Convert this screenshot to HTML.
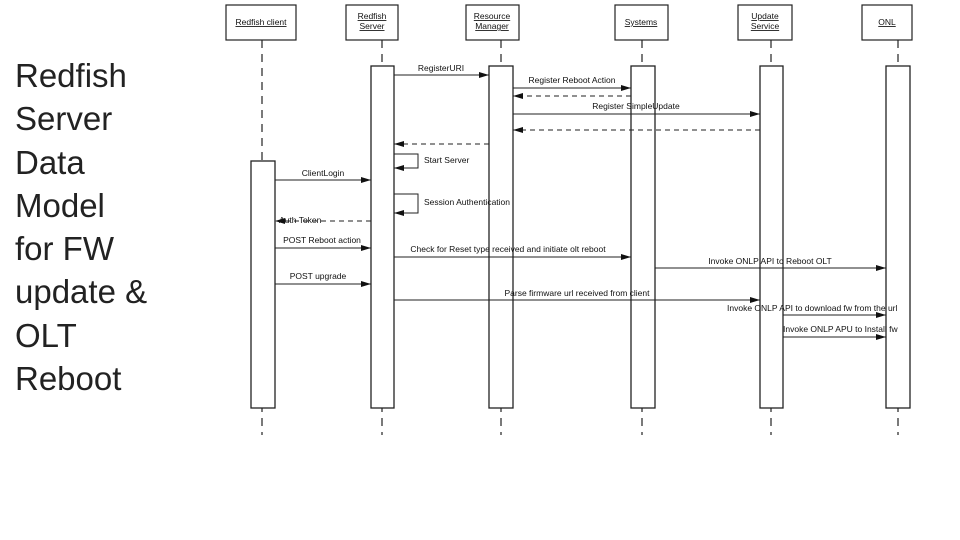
<!DOCTYPE html>
<html><head><meta charset="utf-8"><style>
body{margin:0;width:960px;height:540px;background:#fff;overflow:hidden;position:relative}
.t{position:absolute;left:15px;top:54px;font-family:"Liberation Sans",sans-serif;font-size:33px;line-height:43.3px;color:#222}
svg{position:absolute;left:0;top:0}
</style></head><body>
<div class="t">Redfish<br>Server<br>Data<br>Model<br>for FW<br>update &amp;<br>OLT<br>Reboot</div>
<svg width="960" height="540" font-family="Liberation Sans, sans-serif" font-size="9" fill="#111">
<defs><marker id="a" markerWidth="10" markerHeight="6" refX="10" refY="3" orient="auto" markerUnits="userSpaceOnUse"><path d="M0,0L10,3L0,6z" fill="#111"/></marker></defs>
<g stroke="#222" stroke-width="1.2" fill="#fff">
<rect x="226" y="5" width="70" height="35"/><rect x="346" y="5" width="52" height="35"/><rect x="466" y="5" width="53" height="35"/>
<rect x="615" y="5" width="53" height="35"/><rect x="738" y="5" width="54" height="35"/><rect x="862" y="5" width="50" height="35"/>
</g>
<g stroke="#222" stroke-width="1.2" stroke-dasharray="8,6">
<line x1="262" y1="40" x2="262" y2="435"/><line x1="382" y1="40" x2="382" y2="435"/><line x1="501" y1="40" x2="501" y2="435"/>
<line x1="642" y1="40" x2="642" y2="435"/><line x1="771" y1="40" x2="771" y2="435"/><line x1="898" y1="40" x2="898" y2="435"/>
</g>
<g stroke="#222" stroke-width="1.3" fill="#fff">
<rect x="251" y="161" width="24" height="247"/><rect x="371" y="66" width="23" height="342"/><rect x="489" y="66" width="24" height="342"/>
<rect x="631" y="66" width="24" height="342"/><rect x="760" y="66" width="23" height="342"/><rect x="886" y="66" width="24" height="342"/>
</g>
<g text-anchor="middle" font-size="8.5" text-decoration="underline">
<text x="261" y="25">Redfish client</text><text x="372" y="19">Redfish</text><text x="372" y="29">Server</text>
<text x="492" y="19">Resource</text><text x="492" y="29">Manager</text><text x="641" y="25">Systems</text>
<text x="765" y="19">Update</text><text x="765" y="29">Service</text><text x="887" y="25">ONL</text>
</g>
<g stroke="#222" stroke-width="1" fill="none" marker-end="url(#a)">
<line x1="394" y1="75" x2="489" y2="75"/><line x1="513" y1="88" x2="631" y2="88"/>
<line x1="631" y1="96" x2="513" y2="96" stroke-dasharray="5,4"/>
<line x1="513" y1="114" x2="760" y2="114"/>
<line x1="760" y1="130" x2="513" y2="130" stroke-dasharray="5,4"/>
<line x1="489" y1="144" x2="394" y2="144" stroke-dasharray="5,4"/>
<polyline points="394,154 418,154 418,168 394,168"/>
<line x1="275" y1="180" x2="371" y2="180"/>
<polyline points="394,194 418,194 418,213 394,213"/>
<line x1="371" y1="221" x2="275" y2="221" stroke-dasharray="5,4"/>
<line x1="275" y1="248" x2="371" y2="248"/><line x1="394" y1="257" x2="631" y2="257"/>
<line x1="655" y1="268" x2="886" y2="268"/><line x1="275" y1="284" x2="371" y2="284"/>
<line x1="394" y1="300" x2="760" y2="300"/><line x1="783" y1="315" x2="886" y2="315"/>
<line x1="783" y1="337" x2="886" y2="337"/>
</g>
<g font-size="8.5">
<text x="441" y="71" text-anchor="middle">RegisterURI</text>
<text x="572" y="83" text-anchor="middle">Register Reboot Action</text>
<text x="636" y="109" text-anchor="middle">Register SimpleUpdate</text>
<text x="424" y="163">Start Server</text>
<text x="323" y="176" text-anchor="middle">ClientLogin</text>
<text x="424" y="205">Session Authentication</text>
<text x="279" y="223">Auth Token</text>
<text x="322" y="243" text-anchor="middle">POST Reboot action</text>
<text x="508" y="252" text-anchor="middle">Check for Reset type received and initiate olt reboot</text>
<text x="770" y="264" text-anchor="middle">Invoke ONLP API to Reboot OLT</text>
<text x="318" y="279" text-anchor="middle">POST upgrade</text>
<text x="577" y="296" text-anchor="middle">Parse firmware url received from client</text>
<text x="727" y="311">Invoke ONLP API to download fw from the url</text>
<text x="783" y="332">Invoke ONLP APU to Install fw</text>
</g>
</svg>
</body></html>
